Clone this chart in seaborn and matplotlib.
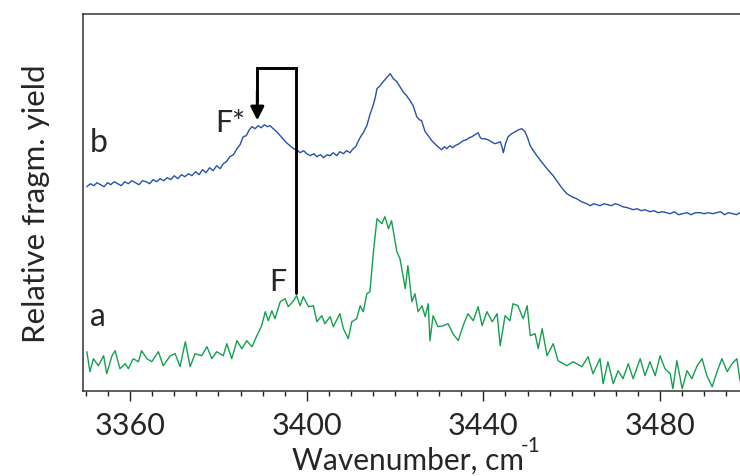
import matplotlib
matplotlib.use("Agg")
import matplotlib.pyplot as plt
import seaborn as sns
import pandas as pd
from matplotlib.ticker import MultipleLocator

# ---- data (wavenumber in cm^-1, relative fragment yield in arbitrary units) ----
b_wn = [3350.2, 3351.0, 3351.8, 3352.5, 3353.3, 3354.1, 3354.9, 3355.6, 3356.4, 3357.2,
        3358.0, 3358.8, 3359.6, 3360.4, 3361.2, 3362.0, 3362.8, 3363.6, 3364.4, 3365.2,
        3366.0, 3366.8, 3367.6, 3368.4, 3369.2, 3370.0, 3370.8, 3371.6, 3372.4, 3373.2,
        3374.0, 3374.8, 3375.6, 3376.4, 3377.2, 3378.0, 3378.8, 3379.6, 3380.4, 3381.1,
        3381.8, 3382.6, 3383.4, 3384.2, 3384.9, 3385.6, 3386.3, 3387.0, 3387.6, 3388.3,
        3389.0, 3389.7, 3390.4, 3391.1, 3391.7, 3392.4, 3393.2, 3394.0, 3394.6, 3395.4,
        3396.2, 3397.0, 3397.7, 3398.5, 3399.3, 3400.0, 3400.8, 3401.6, 3402.3, 3403.1,
        3403.8, 3404.6, 3405.3, 3406.0, 3406.8, 3407.5, 3408.3, 3409.0, 3409.8, 3410.5,
        3411.1, 3411.6, 3412.2, 3412.8, 3413.6, 3414.3, 3415.0, 3415.5, 3415.9, 3416.6,
        3417.3, 3418.1, 3418.9, 3419.6, 3420.4, 3421.1, 3421.8, 3422.6, 3423.4, 3424.1,
        3424.9, 3425.5, 3426.0, 3426.8, 3427.5, 3428.3, 3429.0, 3429.7, 3430.5, 3431.2,
        3431.7, 3432.4, 3433.0, 3433.6, 3434.5, 3435.4, 3436.2, 3436.8, 3437.4, 3438.1,
        3438.8, 3439.3, 3439.6, 3440.3, 3441.0, 3441.8, 3442.6, 3443.3, 3443.8, 3444.2,
        3444.5, 3445.0, 3445.6, 3446.4, 3447.2, 3448.0, 3448.7, 3449.4, 3450.0, 3450.6,
        3451.3, 3452.1, 3452.8, 3453.5, 3454.2, 3455.0, 3455.8, 3456.6, 3457.4, 3458.1,
        3458.9, 3460.0, 3461.1, 3462.2, 3463.4, 3464.2, 3465.0, 3465.7, 3466.4, 3467.3,
        3468.2, 3469.0, 3469.8, 3470.6, 3471.5, 3472.6, 3473.9, 3474.8, 3475.7, 3476.6,
        3477.7, 3478.6, 3479.6, 3480.5, 3481.5, 3482.3, 3483.2, 3484.2, 3485.2, 3486.1,
        3487.0, 3488.0, 3489.1, 3490.0, 3491.0, 3491.9, 3492.8, 3493.7, 3494.6, 3495.5,
        3496.5, 3497.3, 3498.1]
b_yield = [204, 207, 205, 208, 206, 204, 208, 206, 209, 207,
           205, 209, 207, 210, 208, 206, 210, 209, 207, 211,
           209, 212, 210, 213, 211, 215, 212, 216, 214, 217,
           215, 219, 216, 221, 218, 223, 220, 225, 222, 227,
           229, 234, 236, 242, 246, 254, 255, 261, 264, 262,
           265, 263, 266, 264, 265, 262, 259, 255, 252, 248,
           245, 242, 241, 238, 240, 237, 235, 237, 234, 236,
           233, 236, 235, 238, 235, 239, 237, 240, 238, 242,
           244, 249, 254, 258, 265, 276, 285, 293, 302, 305,
           309, 313, 317, 312, 309, 304, 299, 295, 290, 285,
           274, 271, 270, 259, 255, 250, 247, 244, 241, 244,
           242, 245, 243, 245, 247, 250, 251, 253, 254, 256,
           258, 253, 252, 252, 251, 249, 247, 248, 249, 244,
           238, 247, 254, 257, 259, 261, 262, 259, 253, 245,
           240, 235, 231, 227, 223, 219, 215, 210, 205, 201,
           197, 194, 192, 189, 187, 185, 187, 186, 185, 187,
           186, 185, 187, 186, 184, 183, 181, 182, 180, 181,
           179, 180, 178, 179, 178, 177, 179, 176, 177, 178,
           176, 178, 178, 177, 178, 177, 178, 179, 176, 178,
           177, 176, 178]

a_wn = [3350.2, 3350.9, 3351.7, 3352.8, 3354.0, 3354.7, 3355.9, 3356.6, 3357.7, 3358.9,
        3359.6, 3360.7, 3361.9, 3362.6, 3363.8, 3364.9, 3366.4, 3367.5, 3369.1, 3370.2,
        3371.3, 3372.5, 3373.6, 3374.7, 3376.2, 3377.4, 3378.5, 3379.6, 3381.1, 3381.9,
        3383.0, 3384.2, 3385.3, 3386.4, 3387.6, 3388.7, 3389.8, 3390.6, 3391.3, 3392.1,
        3392.8, 3394.0, 3395.1, 3395.8, 3397.0, 3397.7, 3398.5, 3399.2, 3400.4, 3401.5,
        3402.3, 3403.4, 3404.1, 3405.3, 3406.0, 3407.5, 3408.3, 3409.4, 3410.2, 3411.3,
        3412.1, 3412.8, 3413.6, 3414.3, 3415.1, 3415.9, 3417.0, 3417.7, 3418.5, 3419.2,
        3420.4, 3421.1, 3421.8, 3422.3, 3422.9, 3423.8, 3424.5, 3425.2, 3426.1, 3426.8,
        3427.5, 3427.9, 3428.6, 3429.7, 3430.9, 3432.0, 3433.1, 3434.3, 3435.4, 3436.5,
        3437.7, 3438.8, 3439.7, 3440.8, 3442.0, 3443.1, 3443.8, 3444.9, 3446.0, 3446.7,
        3447.8, 3449.0, 3449.9, 3450.6, 3451.7, 3452.4, 3453.3, 3454.4, 3455.8, 3456.9,
        3458.9, 3460.3, 3462.3, 3463.7, 3464.8, 3466.4, 3467.1, 3468.2, 3469.4, 3470.5,
        3471.6, 3472.8, 3473.9, 3475.5, 3476.6, 3477.7, 3478.9, 3480.0, 3481.1, 3482.3,
        3482.9, 3483.8, 3485.0, 3486.1, 3487.2, 3488.4, 3489.5, 3490.6, 3491.8, 3492.9,
        3494.0, 3495.2, 3496.3, 3497.4, 3498.1]
a_yield = [39, 19, 32, 25, 35, 17, 35, 40, 22, 27,
           22, 32, 29, 40, 32, 29, 39, 25, 35, 37,
           24, 49, 24, 37, 35, 44, 32, 39, 35, 47,
           32, 50, 42, 50, 44, 55, 65, 79, 70, 80,
           72, 89, 92, 84, 90, 95, 85, 94, 84, 85,
           69, 75, 67, 74, 64, 77, 62, 52, 69, 72,
           85, 79, 97, 99, 139, 172, 167, 174, 162, 170,
           139, 132, 115, 102, 125, 89, 97, 79, 85, 74,
           87, 50, 75, 64, 65, 67, 57, 50, 65, 77,
           70, 84, 65, 79, 69, 77, 45, 75, 70, 87,
           85, 72, 85, 55, 57, 42, 62, 35, 47, 30,
           25, 29, 24, 34, 17, 32, 7, 29, 7, 20,
           12, 27, 12, 32, 15, 29, 15, 35, 22, 17,
           2, 30, 2, 20, 12, 25, 32, 15, 4, 19,
           32, 19, 27, 32, 10]

trace_labels = ["b", "a"]
peak_labels = ["F*", "F"]
xtick_values = [3360, 3400, 3440, 3480]

df_b = pd.DataFrame({"wn": b_wn, "y": b_yield})
df_a = pd.DataFrame({"wn": a_wn, "y": a_yield})

sns.set_theme(style="white")
plt.rcParams["font.family"] = ["Lato", "DejaVu Sans"]

fig = plt.figure(figsize=(7.4, 4.77), dpi=100)
ax = fig.add_axes([83.3 / 740, 85.3 / 477, 1 - 83.3 / 740, 377.0 / 477])

sns.lineplot(data=df_b, x="wn", y="y", ax=ax, color="#2a50ae", linewidth=1.0, sort=False)
sns.lineplot(data=df_a, x="wn", y="y", ax=ax, color="#14a04f", linewidth=1.0, sort=False)

ax.set_xlim(3349.4, 3498.1)
ax.set_ylim(0, 377)

ax.set_yticks([])
ax.xaxis.set_major_locator(MultipleLocator(40))
ax.xaxis.set_minor_locator(MultipleLocator(5))
ax.set_xticks(xtick_values)
ax.tick_params(axis="x", which="major", direction="out", length=7.5, width=1.0,
               color="#222222", labelsize=22, pad=7, bottom=True)
ax.tick_params(axis="x", which="minor", direction="out", length=3.8, width=1.0,
               color="#222222", bottom=True)

for side in ["left", "bottom", "top"]:
    ax.spines[side].set_visible(True)
    ax.spines[side].set_color("#333333")
    ax.spines[side].set_linewidth(1.1)
ax.spines["right"].set_visible(False)

ax.set_xlabel("")
ax.set_ylabel("Relative fragm. yield", fontsize=22.5, labelpad=24)

# x-axis title with raised "-1" exponent
fig.text(408 / 740, 1 - 470 / 477, "Wavenumber, cm", fontsize=21.5,
         ha="center", va="baseline")
fig.text(521 / 740, 1 - 452 / 477, "-1", fontsize=15, ha="left", va="baseline")

# trace labels
ax.text(3350.9, 240, trace_labels[0], fontsize=23, ha="left", va="baseline")
ax.text(3350.9, 66, trace_labels[1], fontsize=23, ha="left", va="baseline")
ax.text(3379.2, 260, peak_labels[0], fontsize=22, ha="left", va="baseline")
ax.text(3391.5, 101, peak_labels[1], fontsize=22, ha="left", va="baseline")

# bracket with arrow F -> F*
ax.plot([3397.6, 3397.6, 3388.8, 3388.8], [98, 322.7, 322.7, 290],
        color="black", linewidth=2.1, solid_joinstyle="miter")
ax.annotate("", xy=(3388.8, 270.3), xytext=(3388.8, 300),
            arrowprops=dict(arrowstyle="-|>", color="black", lw=2.1,
                            mutation_scale=20, shrinkA=0, shrinkB=0))

fig.savefig("out.png", dpi=100)
